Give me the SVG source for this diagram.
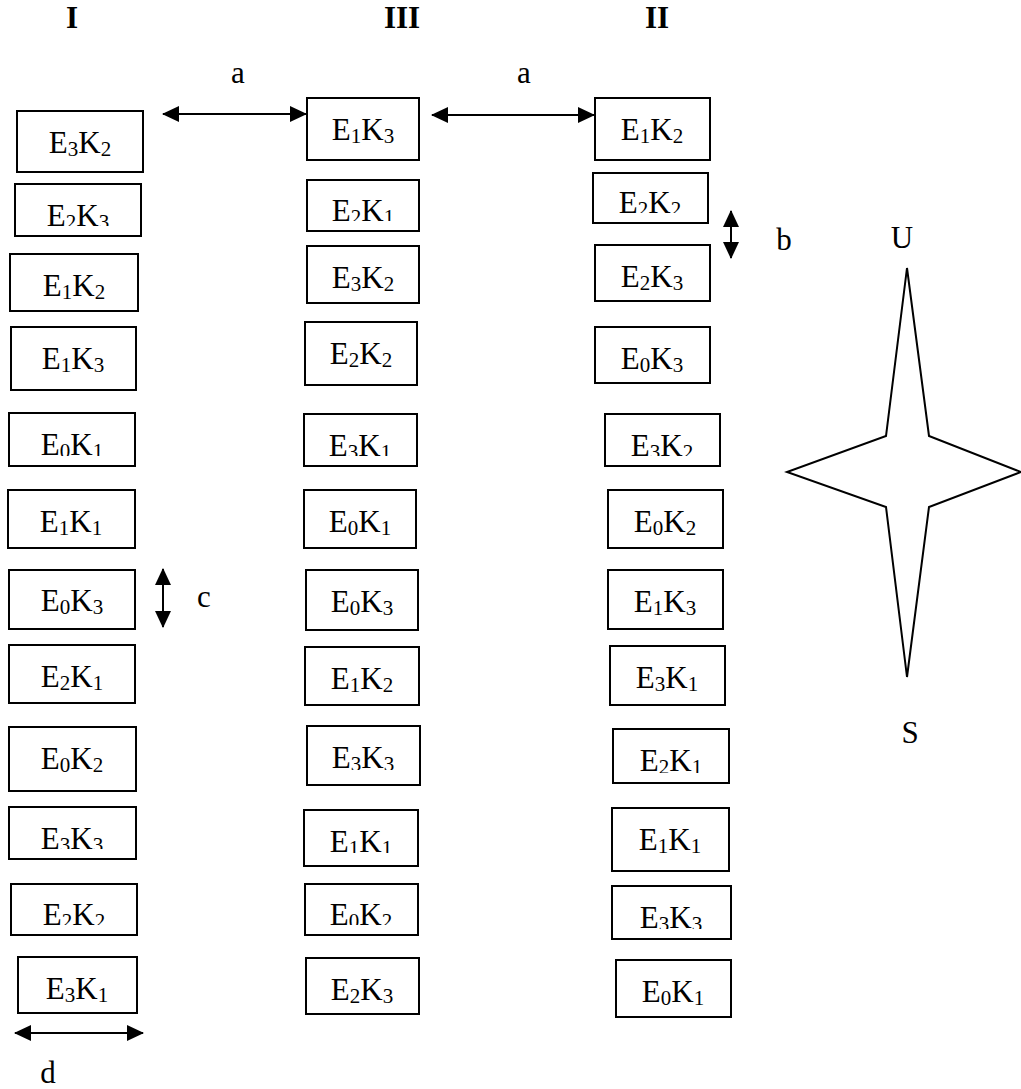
<svg xmlns="http://www.w3.org/2000/svg" width="1021" height="1089" viewBox="0 0 1021 1089">
<style>
text{font-family:"Liberation Serif","Times New Roman",serif;font-size:31px;fill:#000}
.hd{font-weight:bold;text-anchor:middle}
.lb{text-anchor:middle}
.s{font-size:21px}
.box{fill:#fff;stroke:#000;stroke-width:2}
.conn line{stroke:#000;stroke-width:2;marker-start:url(#ah);marker-end:url(#ah)}
.star{fill:#fff;stroke:#000;stroke-width:2;stroke-linejoin:miter}
</style>
<defs>
<marker id="ah" viewBox="0 0 17 16" refX="16" refY="8" markerWidth="17" markerHeight="16" markerUnits="userSpaceOnUse" orient="auto-start-reverse">
<path d="M0,0 L17,8 L0,16 Z" fill="#000"/>
</marker>
<clipPath id="c1"><rect x="15" y="184" width="126" height="42"/></clipPath>
<clipPath id="c2"><rect x="9" y="413" width="126" height="43"/></clipPath>
<clipPath id="c3"><rect x="9" y="807" width="127" height="42"/></clipPath>
<clipPath id="c4"><rect x="11" y="884" width="126" height="41"/></clipPath>
<clipPath id="c5"><rect x="307" y="180" width="112" height="41"/></clipPath>
<clipPath id="c6"><rect x="304" y="414" width="113" height="42"/></clipPath>
<clipPath id="c7"><rect x="307" y="726" width="113" height="44"/></clipPath>
<clipPath id="c8"><rect x="304" y="810" width="114" height="43"/></clipPath>
<clipPath id="c9"><rect x="305" y="884" width="113" height="41"/></clipPath>
<clipPath id="c10"><rect x="593" y="173" width="115" height="40"/></clipPath>
<clipPath id="c11"><rect x="605" y="414" width="115" height="42"/></clipPath>
<clipPath id="c12"><rect x="613" y="729" width="116" height="44"/></clipPath>
<clipPath id="c13"><rect x="612" y="886" width="119" height="43"/></clipPath>
</defs>

<g id="headers">
<text class="hd" x="72" y="28">I</text>
<text class="hd" x="402" y="28">III</text>
<text class="hd" x="657" y="28">II</text>
</g>

<!-- Column I -->
<g id="I-1"><rect class="box" x="17" y="111" width="126" height="61"/><text class="lb" x="80" y="153">E<tspan class="s" dy="3">3</tspan><tspan dy="-3">K</tspan><tspan class="s" dy="3">2</tspan></text></g>
<g id="I-2"><rect class="box" x="15" y="184" width="126" height="52"/><text class="lb" x="78" y="226" clip-path="url(#c1)">E<tspan class="s" dy="3">2</tspan><tspan dy="-3">K</tspan><tspan class="s" dy="3">3</tspan></text></g>
<g id="I-3"><rect class="box" x="10" y="254" width="128" height="57"/><text class="lb" x="74" y="296">E<tspan class="s" dy="3">1</tspan><tspan dy="-3">K</tspan><tspan class="s" dy="3">2</tspan></text></g>
<g id="I-4"><rect class="box" x="11" y="327" width="125" height="63"/><text class="lb" x="73" y="369">E<tspan class="s" dy="3">1</tspan><tspan dy="-3">K</tspan><tspan class="s" dy="3">3</tspan></text></g>
<g id="I-5"><rect class="box" x="9" y="413" width="126" height="53"/><text class="lb" x="72" y="455" clip-path="url(#c2)">E<tspan class="s" dy="3">0</tspan><tspan dy="-3">K</tspan><tspan class="s" dy="3">1</tspan></text></g>
<g id="I-6"><rect class="box" x="8" y="490" width="127" height="58"/><text class="lb" x="71" y="532">E<tspan class="s" dy="3">1</tspan><tspan dy="-3">K</tspan><tspan class="s" dy="3">1</tspan></text></g>
<g id="I-7"><rect class="box" x="9" y="570" width="126" height="59"/><text class="lb" x="72" y="611">E<tspan class="s" dy="3">0</tspan><tspan dy="-3">K</tspan><tspan class="s" dy="3">3</tspan></text></g>
<g id="I-8"><rect class="box" x="9" y="645" width="126" height="58"/><text class="lb" x="72" y="687">E<tspan class="s" dy="3">2</tspan><tspan dy="-3">K</tspan><tspan class="s" dy="3">1</tspan></text></g>
<g id="I-9"><rect class="box" x="9" y="727" width="127" height="64"/><text class="lb" x="72" y="769">E<tspan class="s" dy="3">0</tspan><tspan dy="-3">K</tspan><tspan class="s" dy="3">2</tspan></text></g>
<g id="I-10"><rect class="box" x="9" y="807" width="127" height="52"/><text class="lb" x="72" y="849" clip-path="url(#c3)">E<tspan class="s" dy="3">3</tspan><tspan dy="-3">K</tspan><tspan class="s" dy="3">3</tspan></text></g>
<g id="I-11"><rect class="box" x="11" y="884" width="126" height="51"/><text class="lb" x="74" y="925" clip-path="url(#c4)">E<tspan class="s" dy="3">2</tspan><tspan dy="-3">K</tspan><tspan class="s" dy="3">2</tspan></text></g>
<g id="I-12"><rect class="box" x="18" y="957" width="119" height="56"/><text class="lb" x="77" y="999">E<tspan class="s" dy="3">3</tspan><tspan dy="-3">K</tspan><tspan class="s" dy="3">1</tspan></text></g>

<!-- Column III -->
<g id="III-1"><rect class="box" x="307" y="98" width="112" height="62"/><text class="lb" x="363" y="140">E<tspan class="s" dy="3">1</tspan><tspan dy="-3">K</tspan><tspan class="s" dy="3">3</tspan></text></g>
<g id="III-2"><rect class="box" x="307" y="180" width="112" height="51"/><text class="lb" x="363" y="221" clip-path="url(#c5)">E<tspan class="s" dy="3">2</tspan><tspan dy="-3">K</tspan><tspan class="s" dy="3">1</tspan></text></g>
<g id="III-3"><rect class="box" x="307" y="246" width="112" height="57"/><text class="lb" x="363" y="288">E<tspan class="s" dy="3">3</tspan><tspan dy="-3">K</tspan><tspan class="s" dy="3">2</tspan></text></g>
<g id="III-4"><rect class="box" x="305" y="322" width="112" height="63"/><text class="lb" x="361" y="364">E<tspan class="s" dy="3">2</tspan><tspan dy="-3">K</tspan><tspan class="s" dy="3">2</tspan></text></g>
<g id="III-5"><rect class="box" x="304" y="414" width="113" height="52"/><text class="lb" x="360" y="456" clip-path="url(#c6)">E<tspan class="s" dy="3">3</tspan><tspan dy="-3">K</tspan><tspan class="s" dy="3">1</tspan></text></g>
<g id="III-6"><rect class="box" x="304" y="490" width="112" height="58"/><text class="lb" x="360" y="532">E<tspan class="s" dy="3">0</tspan><tspan dy="-3">K</tspan><tspan class="s" dy="3">1</tspan></text></g>
<g id="III-7"><rect class="box" x="306" y="570" width="112" height="60"/><text class="lb" x="362" y="612">E<tspan class="s" dy="3">0</tspan><tspan dy="-3">K</tspan><tspan class="s" dy="3">3</tspan></text></g>
<g id="III-8"><rect class="box" x="305" y="647" width="114" height="58"/><text class="lb" x="362" y="689">E<tspan class="s" dy="3">1</tspan><tspan dy="-3">K</tspan><tspan class="s" dy="3">2</tspan></text></g>
<g id="III-9"><rect class="box" x="307" y="726" width="113" height="59"/><text class="lb" x="363" y="768" clip-path="url(#c7)">E<tspan class="s" dy="3">3</tspan><tspan dy="-3">K</tspan><tspan class="s" dy="3">3</tspan></text></g>
<g id="III-10"><rect class="box" x="304" y="810" width="114" height="56"/><text class="lb" x="361" y="852" clip-path="url(#c8)">E<tspan class="s" dy="3">1</tspan><tspan dy="-3">K</tspan><tspan class="s" dy="3">1</tspan></text></g>
<g id="III-11"><rect class="box" x="305" y="884" width="113" height="51"/><text class="lb" x="361" y="925" clip-path="url(#c9)">E<tspan class="s" dy="3">0</tspan><tspan dy="-3">K</tspan><tspan class="s" dy="3">2</tspan></text></g>
<g id="III-12"><rect class="box" x="306" y="958" width="113" height="56"/><text class="lb" x="362" y="1000">E<tspan class="s" dy="3">2</tspan><tspan dy="-3">K</tspan><tspan class="s" dy="3">3</tspan></text></g>

<!-- Column II -->
<g id="II-1"><rect class="box" x="595" y="98" width="115" height="62"/><text class="lb" x="652" y="140">E<tspan class="s" dy="3">1</tspan><tspan dy="-3">K</tspan><tspan class="s" dy="3">2</tspan></text></g>
<g id="II-2"><rect class="box" x="593" y="173" width="115" height="50"/><text class="lb" x="650" y="213" clip-path="url(#c10)">E<tspan class="s" dy="3">2</tspan><tspan dy="-3">K</tspan><tspan class="s" dy="3">2</tspan></text></g>
<g id="II-3"><rect class="box" x="595" y="245" width="115" height="56"/><text class="lb" x="652" y="287">E<tspan class="s" dy="3">2</tspan><tspan dy="-3">K</tspan><tspan class="s" dy="3">3</tspan></text></g>
<g id="II-4"><rect class="box" x="595" y="327" width="115" height="56"/><text class="lb" x="652" y="369">E<tspan class="s" dy="3">0</tspan><tspan dy="-3">K</tspan><tspan class="s" dy="3">3</tspan></text></g>
<g id="II-5"><rect class="box" x="605" y="414" width="115" height="52"/><text class="lb" x="662" y="456" clip-path="url(#c11)">E<tspan class="s" dy="3">3</tspan><tspan dy="-3">K</tspan><tspan class="s" dy="3">2</tspan></text></g>
<g id="II-6"><rect class="box" x="608" y="490" width="115" height="58"/><text class="lb" x="665" y="532">E<tspan class="s" dy="3">0</tspan><tspan dy="-3">K</tspan><tspan class="s" dy="3">2</tspan></text></g>
<g id="II-7"><rect class="box" x="608" y="570" width="115" height="59"/><text class="lb" x="665" y="612">E<tspan class="s" dy="3">1</tspan><tspan dy="-3">K</tspan><tspan class="s" dy="3">3</tspan></text></g>
<g id="II-8"><rect class="box" x="610" y="646" width="115" height="59"/><text class="lb" x="667" y="688">E<tspan class="s" dy="3">3</tspan><tspan dy="-3">K</tspan><tspan class="s" dy="3">1</tspan></text></g>
<g id="II-9"><rect class="box" x="613" y="729" width="116" height="54"/><text class="lb" x="671" y="771" clip-path="url(#c12)">E<tspan class="s" dy="3">2</tspan><tspan dy="-3">K</tspan><tspan class="s" dy="3">1</tspan></text></g>
<g id="II-10"><rect class="box" x="612" y="808" width="117" height="63"/><text class="lb" x="670" y="850">E<tspan class="s" dy="3">1</tspan><tspan dy="-3">K</tspan><tspan class="s" dy="3">1</tspan></text></g>
<g id="II-11"><rect class="box" x="612" y="886" width="119" height="53"/><text class="lb" x="671" y="928" clip-path="url(#c13)">E<tspan class="s" dy="3">3</tspan><tspan dy="-3">K</tspan><tspan class="s" dy="3">3</tspan></text></g>
<g id="II-12"><rect class="box" x="616" y="960" width="115" height="57"/><text class="lb" x="673" y="1002">E<tspan class="s" dy="3">0</tspan><tspan dy="-3">K</tspan><tspan class="s" dy="3">1</tspan></text></g>

<g id="compass">
<polygon class="star" points="907,268 929,436 1021,472 929,507 907,677 886,507 787,472 886,436"/>
<text class="lb" x="902" y="248">U</text>
<text class="lb" x="910" y="743">S</text>
</g>

<g id="connectors" class="conn">
<line x1="163" y1="114" x2="306" y2="114"/>
<line x1="432" y1="115" x2="594" y2="115"/>
<line x1="731" y1="211" x2="731" y2="258"/>
<line x1="163" y1="569" x2="163" y2="627"/>
<line x1="15" y1="1033" x2="143" y2="1033"/>
</g>

<g id="labels">
<text class="lb" x="238" y="83">a</text>
<text class="lb" x="524" y="83">a</text>
<text class="lb" x="784" y="250">b</text>
<text class="lb" x="204" y="607">c</text>
<text class="lb" x="48" y="1083">d</text>
</g>
</svg>
